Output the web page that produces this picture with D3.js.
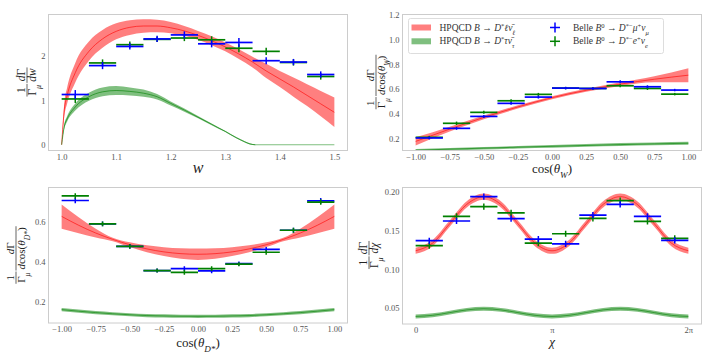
<!DOCTYPE html>
<html><head><meta charset="utf-8">
<script src="https://cdn.jsdelivr.net/npm/d3@7"></script>
<style>body{margin:0;background:#fff} svg text{font-family:"Liberation Serif","DejaVu Serif",serif}</style>
</head><body><svg id="c" width="720" height="360"></svg>
<script>
// ---------- Panel 1: w ----------
const wGrid   = [1.0,1.005,1.01,1.025,1.05,1.075,1.10,1.125,1.15,1.175,1.20,1.225,1.25,1.275,1.30,1.325,1.35,1.375,1.40,1.425,1.45,1.475,1.50];
const wLepMid = [0,0.80,1.10,1.62,2.10,2.38,2.55,2.64,2.67,2.67,2.63,2.56,2.46,2.34,2.20,2.04,1.86,1.66,1.48,1.30,1.11,0.92,0.73];
const wLepLo  = [0,0.65,0.92,1.40,1.89,2.18,2.37,2.47,2.52,2.53,2.51,2.45,2.36,2.24,2.10,1.93,1.74,1.50,1.30,1.08,0.87,0.64,0.40];
const wLepHi  = [0,0.95,1.28,1.84,2.32,2.58,2.73,2.80,2.82,2.81,2.76,2.67,2.56,2.44,2.30,2.15,1.98,1.82,1.66,1.51,1.36,1.21,1.06];
const wTauGrid = [1.0,1.005,1.01,1.025,1.05,1.075,1.10,1.125,1.15,1.175,1.20,1.225,1.25,1.275,1.30,1.32,1.335,1.345,1.355,1.40,1.45,1.50];
const wTauMid  = [0,0.42,0.58,0.85,1.08,1.19,1.22,1.20,1.16,1.08,0.93,0.78,0.62,0.46,0.30,0.16,0.07,0.02,0,0,0,0];
const wTauLo   = [0,0.37,0.52,0.77,0.99,1.09,1.12,1.11,1.08,1.02,0.885,0.745,0.595,0.44,0.285,0.145,0.055,0.005,-0.013,-0.013,-0.013,-0.013];
const wTauHi   = [0,0.47,0.64,0.93,1.17,1.29,1.32,1.29,1.24,1.14,0.975,0.815,0.645,0.48,0.315,0.175,0.085,0.035,0.013,0.013,0.013,0.013];
const wBins     = [1.025,1.075,1.125,1.175,1.225,1.275,1.325,1.375,1.425,1.475];
const wBinHalf  = 0.025;
const wBelleMu  = [1.13,1.78,2.21,2.38,2.47,2.27,2.30,1.89,1.86,1.58];
const wBelleMuE = [0.10,0.08,0.07,0.07,0.08,0.08,0.10,0.08,0.07,0.07];
const wBelleE   = [1.03,1.84,2.25,2.37,2.40,2.36,2.17,2.10,1.85,1.535];
const wBelleEE  = [0.09,0.08,0.07,0.06,0.07,0.08,0.09,0.08,0.07,0.07];
const wTicksX = [1.0,1.1,1.2,1.3,1.4,1.5];
const wTicksY = [0,1,2];

// ---------- Panel 2: cos(theta_W) ----------
const cwGrid   = [-1,-0.75,-0.5,-0.25,0,0.25,0.5,0.75,1];
const cwLepMid = [0.175,0.275,0.37,0.455,0.53,0.59,0.64,0.68,0.713];
const cwLepLo  = [0.142,0.255,0.355,0.442,0.518,0.578,0.625,0.655,0.655];
const cwLepHi  = [0.208,0.295,0.385,0.468,0.542,0.602,0.655,0.705,0.77];
const cwTauMid = [0.103,0.112,0.120,0.128,0.135,0.142,0.149,0.155,0.160];
const cwTauLo  = [0.093,0.102,0.110,0.118,0.124,0.131,0.137,0.143,0.148];
const cwTauHi  = [0.113,0.122,0.130,0.138,0.146,0.153,0.161,0.167,0.172];
const cBins    = [-0.9,-0.7,-0.5,-0.3,-0.1,0.1,0.3,0.5,0.7,0.9];
const cBinHalf = 0.1;
const cwBelleMu  = [0.203,0.281,0.378,0.484,0.535,0.608,0.605,0.659,0.619,0.592];
const cwBelleMuE = [0.012,0.012,0.012,0.012,0.012,0.010,0.010,0.012,0.012,0.010];
const cwBelleE   = [0.208,0.322,0.411,0.505,0.557,0.608,0.605,0.627,0.605,0.559];
const cwBelleEE  = [0.012,0.014,0.012,0.012,0.012,0.010,0.010,0.012,0.012,0.010];
const cTicksX  = [-1,-0.75,-0.5,-0.25,0,0.25,0.5,0.75,1];
const cwTicksY = [0.2,0.4,0.6,0.8,1.0,1.2];

// ---------- Panel 3: cos(theta_D*) ----------
const cdGrid   = [-1,-0.875,-0.75,-0.625,-0.5,-0.375,-0.25,-0.125,0,0.125,0.25,0.375,0.5,0.625,0.75,0.875,1];
const cdLepMid = [0.628,0.583,0.544,0.512,0.485,0.464,0.449,0.440,0.437,0.440,0.449,0.464,0.485,0.512,0.544,0.583,0.628];
const cdLepLo  = [0.566,0.543,0.522,0.503,0.473,0.447,0.428,0.414,0.408,0.414,0.428,0.447,0.473,0.503,0.522,0.543,0.566];
const cdLepHi  = [0.688,0.623,0.566,0.520,0.497,0.482,0.472,0.467,0.466,0.467,0.472,0.482,0.497,0.520,0.566,0.623,0.688];
const cdTauMid = [0.158,0.150,0.143,0.137,0.132,0.128,0.126,0.1245,0.124,0.1245,0.126,0.128,0.132,0.137,0.143,0.150,0.158];
const cdTauLo  = [0.150,0.142,0.135,0.129,0.124,0.120,0.118,0.1165,0.116,0.1165,0.118,0.120,0.124,0.129,0.135,0.142,0.150];
const cdTauHi  = [0.166,0.158,0.151,0.145,0.140,0.136,0.134,0.1325,0.132,0.1325,0.134,0.136,0.140,0.145,0.151,0.158,0.166];
const cdBelleMu  = [0.708,0.590,0.477,0.355,0.365,0.353,0.390,0.462,0.558,0.706];
const cdBelleMuE = [0.014,0.012,0.012,0.010,0.012,0.012,0.010,0.012,0.012,0.014];
const cdBelleE   = [0.731,0.590,0.477,0.355,0.346,0.365,0.387,0.447,0.558,0.700];
const cdBelleEE  = [0.014,0.012,0.012,0.010,0.012,0.012,0.010,0.012,0.012,0.014];
const cdTicksY = [0.2,0.4,0.6];

// ---------- Panel 4: chi ----------
const chiGrid   = [0,0.393,0.785,1.178,1.571,1.963,2.356,2.749,3.142,3.534,3.927,4.320,4.712,5.105,5.498,5.890,6.283];
const chiLepMid = [0.124,0.134,0.159,0.184,0.194,0.184,0.159,0.134,0.124,0.134,0.159,0.184,0.194,0.184,0.159,0.134,0.124];
const chiLepLo  = [0.1200,0.1300,0.1550,0.1800,0.1900,0.1800,0.1550,0.1300,0.1200,0.1300,0.1550,0.1800,0.1900,0.1800,0.1550,0.1300,0.1200];
const chiLepHi  = [0.1280,0.1380,0.1630,0.1880,0.1980,0.1880,0.1630,0.1380,0.1280,0.1380,0.1630,0.1880,0.1980,0.1880,0.1630,0.1380,0.1280];
const chiTauMid = [0.0390,0.0405,0.0440,0.0475,0.0490,0.0475,0.0440,0.0405,0.0390,0.0405,0.0440,0.0475,0.0490,0.0475,0.0440,0.0405,0.0390];
const chiTauLo  = [0.0365,0.0380,0.0415,0.0450,0.0465,0.0450,0.0415,0.0380,0.0365,0.0380,0.0415,0.0450,0.0465,0.0450,0.0415,0.0380,0.0365];
const chiTauHi  = [0.0415,0.0430,0.0465,0.0500,0.0515,0.0500,0.0465,0.0430,0.0415,0.0430,0.0465,0.0500,0.0515,0.0500,0.0465,0.0430,0.0415];
const chiBins    = [0.314,0.942,1.571,2.199,2.827,3.456,4.084,4.712,5.341,5.969];
const chiBinHalf = 0.314;
const chiBelleMu  = [0.137,0.1625,0.194,0.1655,0.139,0.133,0.170,0.184,0.1685,0.1375];
const chiBelleMuE = [0.004,0.004,0.004,0.004,0.004,0.004,0.004,0.004,0.004,0.004];
const chiBelleE   = [0.1306,0.1685,0.181,0.173,0.134,0.146,0.166,0.189,0.162,0.140];
const chiBelleEE  = [0.004,0.004,0.004,0.004,0.004,0.004,0.004,0.004,0.004,0.004];
const chiTicksX = [0, Math.PI, 2*Math.PI];
const chiTickLabels = ["0","π","2π"];
const chiTicksY = [0.05,0.10,0.15,0.20];

// ---------- drawing ----------
const svg = d3.select('#c');
const RED = '#ff0000', GREEN = '#008000', BLUE = '#0000ff';
const TICK_COL = '#555', FRAME = '#cccccc';
const SERIF = '"Liberation Serif","DejaVu Serif",serif';

function rich(sel, parts) {
  parts.forEach(([t, s]) => {
    const ts = sel.append('tspan').text(t);
    if (s.includes('i')) ts.attr('font-style', 'italic');
    if (s.includes('b')) ts.attr('baseline-shift', 'sub').attr('font-size', '70%');
    if (s.includes('p')) ts.attr('baseline-shift', 'super').attr('font-size', '70%');
  });
}

function makePanel(box, xdom, ydom, id) {
  const x = d3.scaleLinear().domain(xdom).range([box.l, box.r]);
  const y = d3.scaleLinear().domain(ydom).range([box.b, box.t]);
  svg.append('clipPath').attr('id', id).append('rect')
    .attr('x', box.l).attr('y', box.t).attr('width', box.r - box.l).attr('height', box.b - box.t);
  const g = svg.append('g').attr('clip-path', `url(#${id})`);
  return {x, y, box, g};
}

function band(p, xs, lo, hi, mid, col, midEnd) {
  const pts = xs.map((v, i) => ({x: v, lo: lo[i], hi: hi[i], m: mid[i]}));
  p.g.append('path').datum(pts)
    .attr('d', d3.area().x(d => p.x(d.x)).y0(d => p.y(d.lo)).y1(d => p.y(d.hi)).curve(d3.curveMonotoneX))
    .attr('fill', col).attr('fill-opacity', 0.5).attr('stroke', 'none');
  const mp = midEnd === undefined ? pts : pts.filter(d => d.x <= midEnd);
  p.g.append('path').datum(mp)
    .attr('d', d3.line().x(d => p.x(d.x)).y(d => p.y(d.m)).curve(d3.curveMonotoneX))
    .attr('fill', 'none').attr('stroke', col).attr('stroke-opacity', 0.75).attr('stroke-width', 0.8);
}

function errs(p, cs, half, vals, es, col) {
  const g = p.g.append('g').attr('stroke', col);
  cs.forEach((c, i) => {
    g.append('line').attr('x1', p.x(c - half)).attr('x2', p.x(c + half))
      .attr('y1', p.y(vals[i])).attr('y2', p.y(vals[i])).attr('stroke-width', 1.7);
    g.append('line').attr('x1', p.x(c)).attr('x2', p.x(c))
      .attr('y1', p.y(vals[i] - es[i])).attr('y2', p.y(vals[i] + es[i])).attr('stroke-width', 1.5);
  });
}

function axes(p, xt, xfmt, yt, yfmt) {
  const b = p.box;
  const ax = svg.append('g').attr('transform', `translate(0,${b.b})`)
    .call(d3.axisBottom(p.x).tickValues(xt).tickFormat(xfmt).tickSize(0).tickPadding(2.5));
  const ay = svg.append('g').attr('transform', `translate(${b.l},0)`)
    .call(d3.axisLeft(p.y).tickValues(yt).tickFormat(yfmt).tickSize(0).tickPadding(2.5));
  [ax, ay].forEach(a => {
    a.attr('font-family', null);
    a.select('.domain').remove();
    a.selectAll('text').attr('fill', TICK_COL).attr('font-size', 8.5);
  });
  svg.append('rect').attr('x', b.l + 0.5).attr('y', b.t + 0.5)
    .attr('width', b.r - b.l - 1).attr('height', b.b - b.t - 1)
    .attr('fill', 'none').attr('stroke', FRAME).attr('stroke-width', 1);
}

function xLabel(cx, by, parts, fs) {
  const t = svg.append('text').attr('x', cx).attr('y', by).attr('text-anchor', 'middle')
    .attr('font-size', fs).attr('fill', '#222');
  rich(t, parts);
}

function fracLabel(cx, cy, fracs, fs) {
  const g = svg.append('g').attr('transform', `translate(${cx},${cy}) rotate(-90)`).attr('fill', '#222');
  let xPos = 0; const items = [];
  fracs.forEach(f => {
    const num = g.append('text').attr('font-size', fs).attr('y', -2.5).attr('text-anchor', 'middle');
    rich(num, f.num);
    const den = g.append('text').attr('font-size', fs).attr('y', fs * 0.82).attr('text-anchor', 'middle');
    rich(den, f.den);
    const w = Math.max(num.node().getComputedTextLength(), den.node().getComputedTextLength()) + 2;
    items.push({num, den, w, x: xPos});
    xPos += w + 1;
  });
  const total = xPos - 1;
  items.forEach(it => {
    const x0 = it.x - total / 2;
    it.num.attr('x', x0 + it.w / 2);
    it.den.attr('x', x0 + it.w / 2);
    g.append('line').attr('x1', x0).attr('x2', x0 + it.w).attr('y1', 0).attr('y2', 0)
      .attr('stroke', '#222').attr('stroke-width', 0.7);
  });
}

const fmt2 = d => d3.format('.2f')(d).replace('-', '−');

// Panel 1
const p1 = makePanel({l: 48, r: 348, t: 14, b: 151}, [0.975, 1.525], [-0.14, 2.94], 'cp1');
band(p1, wGrid, wLepLo, wLepHi, wLepMid, RED);
band(p1, wTauGrid, wTauLo, wTauHi, wTauMid, GREEN, 1.355);
errs(p1, wBins, wBinHalf, wBelleE, wBelleEE, GREEN);
errs(p1, wBins, wBinHalf, wBelleMu, wBelleMuE, BLUE);
axes(p1, wTicksX, d3.format('.1f'), wTicksY, d3.format('d'));
xLabel(198, 173, [['w', 'i']], 16);
fracLabel(27, 82, [
  {num: [['1', '']], den: [['Γ', ''], ['μ', 'ib']]},
  {num: [['d', 'i'], ['Γ', '']], den: [['dw', 'i']]}
], 11.5);

// Panel 2
const p2 = makePanel({l: 402, r: 702, t: 14, b: 151}, [-1.1, 1.1], [0.097, 1.21], 'cp2');
band(p2, cwGrid, cwLepLo, cwLepHi, cwLepMid, RED);
band(p2, cwGrid, cwTauLo, cwTauHi, cwTauMid, GREEN);
errs(p2, cBins, cBinHalf, cwBelleE, cwBelleEE, GREEN);
errs(p2, cBins, cBinHalf, cwBelleMu, cwBelleMuE, BLUE);
axes(p2, cTicksX, fmt2, cwTicksY, d3.format('.1f'));
xLabel(552, 173, [['cos(', ''], ['θ', 'i'], ['W', 'ib'], [')', '']], 13);
fracLabel(376, 82, [
  {num: [['1', '']], den: [['Γ', ''], ['μ', 'ib']]},
  {num: [['d', 'i'], ['Γ', '']], den: [['d', 'i'], ['cos(', ''], ['θ', 'i'], ['W', 'ib'], [')', '']]}
], 11);

// Legend (panel 2)
const lg = svg.append('g');
lg.append('rect').attr('x', 408.5).attr('y', 18.5).attr('width', 255).attr('height', 35).attr('rx', 2)
  .attr('fill', '#fff').attr('fill-opacity', 0.8).attr('stroke', '#dddddd');
const legRows = [27.5, 41.3];
lg.append('rect').attr('x', 411.5).attr('y', legRows[0] - 3).attr('width', 19.5).attr('height', 6).attr('fill', RED).attr('fill-opacity', 0.5);
lg.append('rect').attr('x', 411.5).attr('y', legRows[1] - 3).attr('width', 19.5).attr('height', 6).attr('fill', GREEN).attr('fill-opacity', 0.5);
[[BLUE, legRows[0]], [GREEN, legRows[1]]].forEach(([c, yy]) => {
  lg.append('line').attr('x1', 550).attr('x2', 560).attr('y1', yy).attr('y2', yy).attr('stroke', c).attr('stroke-width', 1.5);
  lg.append('line').attr('x1', 555).attr('x2', 555).attr('y1', yy - 5).attr('y2', yy + 5).attr('stroke', c).attr('stroke-width', 1.5);
});
const legTexts = [
  [439.5, legRows[0], [['HPQCD ', ''], ['B', 'i'], [' → ', ''], ['D', 'i'], ['*', 'p'], ['ℓ', 'i'], ['ν̄', 'i'], ['ℓ', 'ib']]],
  [439.5, legRows[1], [['HPQCD ', ''], ['B', 'i'], [' → ', ''], ['D', 'i'], ['*', 'p'], ['τ', 'i'], ['ν̄', 'i'], ['τ', 'ib']]],
  [573, legRows[0], [['Belle ', ''], ['B', 'i'], ['0', 'p'], [' → ', ''], ['D', 'i'], ['*−', 'p'], ['μ', 'i'], ['+', 'p'], ['ν', 'i'], ['μ', 'ib']]],
  [573, legRows[1], [['Belle ', ''], ['B', 'i'], ['0', 'p'], [' → ', ''], ['D', 'i'], ['*−', 'p'], ['e', 'i'], ['+', 'p'], ['ν', 'i'], ['e', 'ib']]]
];
legTexts.forEach(([xx, yy, parts]) => {
  const t = lg.append('text').attr('x', xx).attr('y', yy + 3).attr('font-size', 9.5).attr('fill', '#333');
  rich(t, parts);
});

// Panel 3
const p3 = makePanel({l: 48, r: 348, t: 187, b: 323.5}, [-1.1, 1.1], [0.088, 0.776], 'cp3');
band(p3, cdGrid, cdLepLo, cdLepHi, cdLepMid, RED);
band(p3, cdGrid, cdTauLo, cdTauHi, cdTauMid, GREEN);
errs(p3, cBins, cBinHalf, cdBelleMu, cdBelleMuE, BLUE);
errs(p3, cBins, cBinHalf, cdBelleE, cdBelleEE, GREEN);
axes(p3, cTicksX, fmt2, cdTicksY, d3.format('.1f'));
xLabel(198, 347, [['cos(', ''], ['θ', 'i'], ['D*', 'ib'], [')', '']], 13);
fracLabel(16, 255, [
  {num: [['1', '']], den: [['Γ', ''], ['μ', 'ib']]},
  {num: [['d', 'i'], ['Γ', '']], den: [['d', 'i'], ['cos(', ''], ['θ', 'i'], ['D*', 'ib'], [')', '']]}
], 11);

// Panel 4
const p4 = makePanel({l: 402, r: 702, t: 187, b: 324.5}, [-0.314, 6.597], [0.0286, 0.2065], 'cp4');
band(p4, chiGrid, chiLepLo, chiLepHi, chiLepMid, RED);
band(p4, chiGrid, chiTauLo, chiTauHi, chiTauMid, GREEN);
errs(p4, chiBins, chiBinHalf, chiBelleE, chiBelleEE, GREEN);
errs(p4, chiBins, chiBinHalf, chiBelleMu, chiBelleMuE, BLUE);
axes(p4, chiTicksX, (d, i) => chiTickLabels[i], chiTicksY, d3.format('.2f'));
xLabel(552, 346, [['χ', 'i']], 13);
fracLabel(369, 255, [
  {num: [['1', '']], den: [['Γ', ''], ['μ', 'ib']]},
  {num: [['d', 'i'], ['Γ', '']], den: [['d', 'i'], ['χ', 'i']]}
], 11.5);

svg.selectAll('text').style('font-family', SERIF);
</script></body></html>
